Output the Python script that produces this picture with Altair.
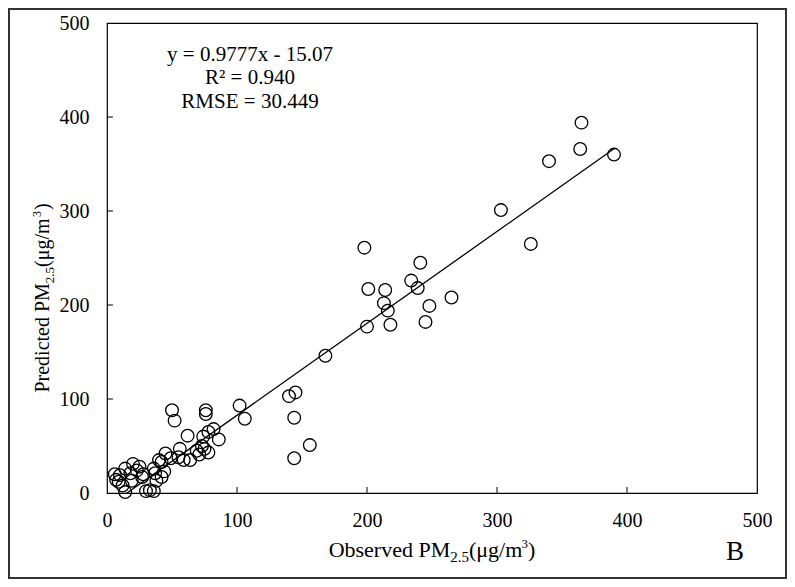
import altair as alt
import pandas as pd

# ---- data ----
observed = [365, 364, 340, 390, 303, 326,
            198, 241, 234, 239, 201, 214, 213, 216, 265, 248, 245, 218, 200,
            168, 140, 145, 144, 156, 144,
            102, 106,
            50, 52, 76, 76,
            62, 78, 82, 86, 74, 73, 75, 78, 69, 56, 45, 49, 55, 59, 64, 40, 71,
            36, 37, 42, 38, 30, 33, 36,
            20, 25, 14, 18, 10, 7, 12, 14, 23, 27, 9, 42, 44, 19, 28, 6]
predicted = [394, 366, 353, 360, 301, 265,
             261, 245, 226, 218, 217, 216, 202, 194, 208, 199, 182, 179, 177,
             146, 103, 107, 80, 51, 37,
             93, 79,
             88, 77, 88, 84,
             61, 65, 68, 57, 60, 50, 47, 43, 45, 47, 42, 37, 38, 35, 35, 35, 41,
             26, 21, 17, 13, 2, 3, 2,
             31, 28, 26, 21, 19, 14, 8, 1, 24, 17, 12, 33, 23, 13, 20, 20]
axis_values = [0, 100, 200, 300, 400, 500]
inner_ticks = [100, 200, 300, 400]
slope = 0.9777
intercept = -15.07
stats_lines = ["y = 0.9777x - 15.07", "R\u00b2 = 0.940", "RMSE = 30.449"]
panel_letter = "B"

# ---- layout ----
W, H = 650, 470
FONT = "Liberation Serif"
INK = "#000000"

df = pd.DataFrame({"obs": observed, "pred": predicted})
x0, x1 = min(observed), max(observed)
df_line = pd.DataFrame({"obs": [x0, x1], "pred": [slope * x0 + intercept, slope * x1 + intercept]})

xs = alt.Scale(domain=[0, 500], nice=False, zero=False)
ys = alt.Scale(domain=[0, 500], nice=False, zero=False)
axis_common = dict(values=axis_values, format="d", labelFont=FONT, labelFontSize=20,
                   labelColor=INK, ticks=False, domain=False, grid=False, title="",
                   labelFlush=False)
X = alt.X("obs:Q", scale=xs, axis=alt.Axis(labelPadding=17, **axis_common))
Y = alt.Y("pred:Q", scale=ys, axis=alt.Axis(labelPadding=18, **axis_common))

points = alt.Chart(df).mark_point(shape="circle", filled=False, size=160,
                                  strokeWidth=1.3, color=INK, opacity=1).encode(x=X, y=Y)
line = alt.Chart(df_line).mark_line(color=INK, strokeWidth=1.3, clip=True).encode(x=X, y=Y)

xt = alt.Chart(pd.DataFrame({"obs": inner_ticks})).mark_rule(color=INK, strokeWidth=1).encode(
    x=X, y=alt.value(H), y2=alt.value(H - 6))
yt = alt.Chart(pd.DataFrame({"pred": inner_ticks})).mark_rule(color=INK, strokeWidth=1).encode(
    y=Y, x=alt.value(0), x2=alt.value(6))

layers = [points, line, xt, yt]

# regression statistics text
for s, yy in zip(stats_lines, [38, 61, 85]):
    layers.append(alt.Chart(pd.DataFrame({"t": [s]})).mark_text(
        font=FONT, fontSize=21, color=INK, align="center", baseline="alphabetic").encode(
        x=alt.value(143), y=alt.value(yy), text="t:N"))

# axis titles with sub/superscripts built from pieces
TW = {"O": 722, "b": 500, "s": 389, "e": 444, "r": 333, "v": 500, "d": 500, " ": 250,
      "P": 556, "M": 889, "2": 500, ".": 250, "5": 500, "(": 333, "\u03bc": 500,
      "g": 500, "/": 278, "m": 778, "3": 500, ")": 333, "i": 278, "c": 444, "t": 278}


def tw(s, size):
    return sum(TW.get(c, 500) for c in s) * size / 1000.0


xt_pieces = [("Observed PM", 22, 0, 0), ("2.5", 15, 5, 0), ("(\u03bcg/m", 22, 0, 0),
             ("3", 13, -9, 0), (")", 22, 0, 0)]
total = sum(tw(s, f) for s, f, _, _ in xt_pieces)
cx = W / 2 - total / 2
for s, f, d, adj in xt_pieces:
    layers.append(alt.Chart(pd.DataFrame({"t": [s]})).mark_text(
        font=FONT, fontSize=f, color=INK, align="left", baseline="alphabetic").encode(
        x=alt.value(cx + adj), y=alt.value(534 + d), text="t:N"))
    cx += tw(s, f)

yt_pieces = [("Predicted PM", 20, 0, 0), ("2.5", 13, 5, 0), (" (\u03bcg/m", 20, 0, 0),
             ("3", 12, -8, 3), (")", 20, 0, 2)]
total = sum(tw(s, f) for s, f, _, _ in yt_pieces)
cy = 274 + total / 2
for s, f, d, adj in yt_pieces:
    layers.append(alt.Chart(pd.DataFrame({"t": [s]})).mark_text(
        font=FONT, fontSize=f, color=INK, align="left", baseline="alphabetic", angle=270).encode(
        x=alt.value(-58 + d), y=alt.value(cy + adj), text="t:N"))
    cy -= tw(s, f)

layers.append(alt.Chart(pd.DataFrame({"t": [panel_letter]})).mark_text(
    font=FONT, fontSize=27, color=INK, align="center", baseline="alphabetic").encode(
    x=alt.value(628), y=alt.value(537), text="t:N"))

# outer frame of the figure
layers.append(alt.Chart(pd.DataFrame({"t": [0]})).mark_rect(
    fillOpacity=0, stroke="#333333", strokeWidth=2).encode(
    x=alt.value(-98), x2=alt.value(W + 29), y=alt.value(-14), y2=alt.value(H + 85)))

chart = alt.layer(*layers).properties(
    width=W, height=H,
    autosize=alt.AutoSizeParams(type="none"),
    padding={"left": 99, "top": 15, "right": 30, "bottom": 86},
    background="white",
).configure_view(stroke=INK, strokeWidth=1.2)

chart.save("out.html", embed_options={"renderer": "svg", "actions": False})
